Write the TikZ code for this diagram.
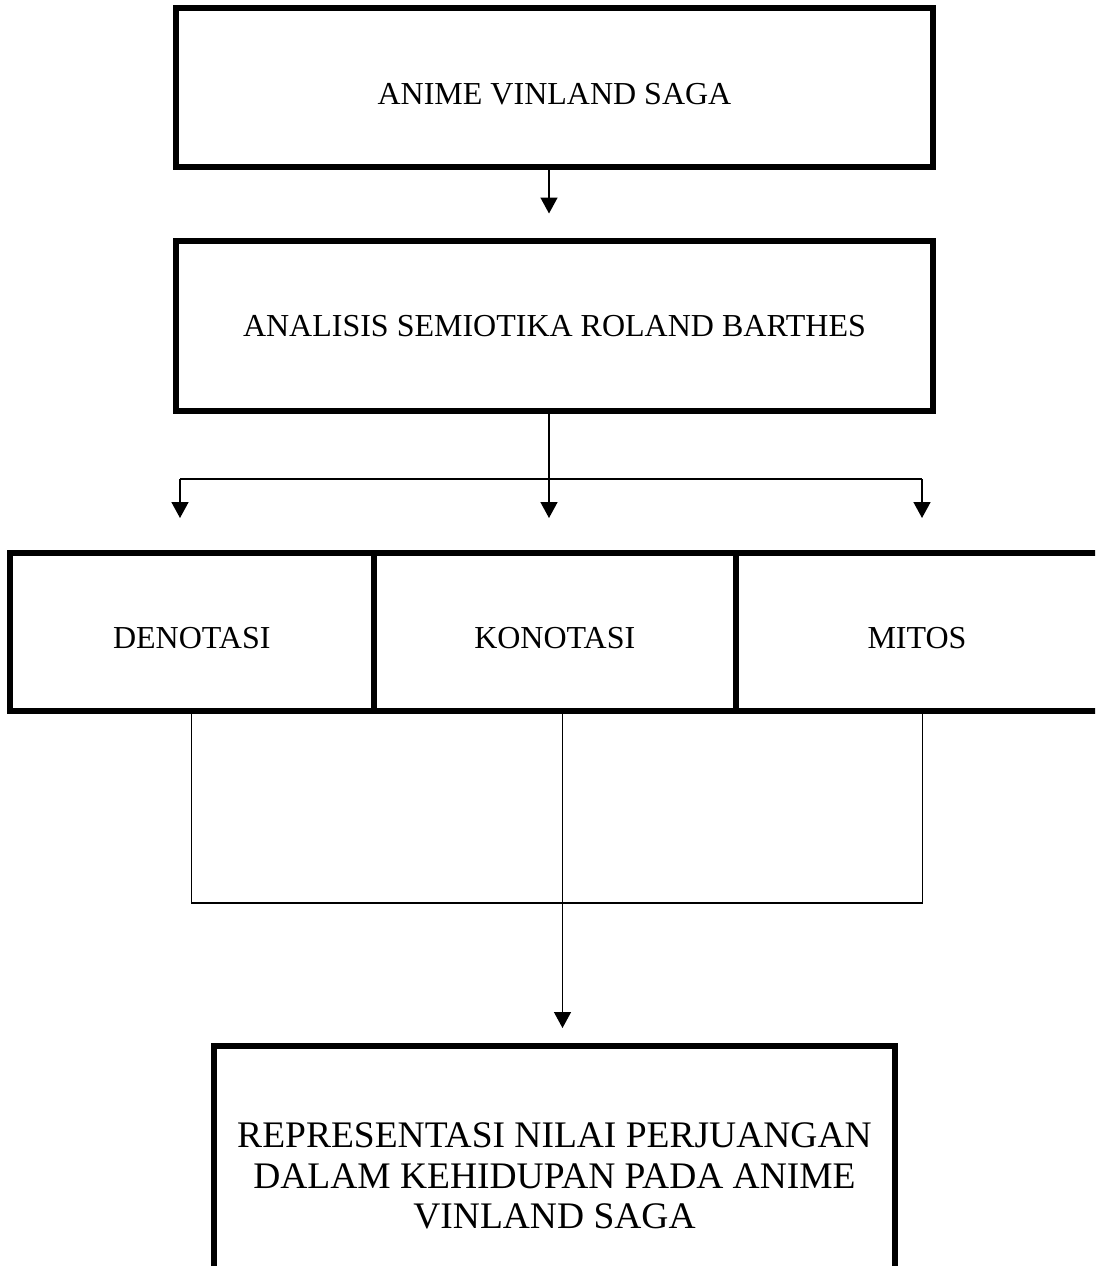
\documentclass[tikz,border=0pt]{standalone}
\usepackage{fontspec}
\setmainfont{Liberation Serif}
\usetikzlibrary{arrows.meta,calc}
\tikzset{
  box/.style={draw=black, line width=6pt, rectangle, inner sep=0pt, outer sep=0pt, align=center, fill=none},
  midfont/.style={font=\fontsize{32}{37}\selectfont},
  bigfont/.style={font=\fontsize{37.5}{40.7}\selectfont},
  tip/.style={-{Triangle[width=17pt,length=16pt]}},
  arr/.style={line width=1.6pt, tip},
  conn/.style={line width=1.6pt},
  brk/.style={line width=1.3pt}
}
\newcommand{\lowered}[2]{\raisebox{-#1pt}[0pt][0pt]{#2}}
\begin{document}
\begin{tikzpicture}[x=1pt,y=-1pt]
\useasboundingbox (0,0) rectangle (1095,1266);
\clip (0,0) rectangle (1095,1266);
% boxes
\node[box, midfont, minimum width=757pt, minimum height=159.5pt] (anime) at (554.5,87.25) {\lowered{17.6}{ANIME VINLAND SAGA}};
\node[box, midfont, minimum width=757pt, minimum height=170.5pt] (analisis) at (554.5,325.75) {ANALISIS SEMIOTIKA ROLAND BARTHES};
\node[box, midfont, minimum width=363.5pt, minimum height=158pt] (denot) at (191.75,632) {\lowered{16.4}{DENOTASI}};
\node[box, midfont, minimum width=362.5pt, minimum height=158pt] (konot) at (554.75,632) {\lowered{16.4}{KONOTASI}};
\node[box, midfont, minimum width=366pt, minimum height=158pt] (mitos) at (919,632) {\lowered{16.4}{\kern-4pt MITOS}};
\node[box, bigfont, minimum width=681pt, minimum height=260pt] (hasil) at (554.5,1176) {REPRESENTASI NILAI PERJUANGAN\\DALAM KEHIDUPAN PADA ANIME\\VINLAND SAGA};
% spine coordinates
\coordinate (sx) at (549,0);
\coordinate (lx) at (180,0);
\coordinate (rx) at (922,0);
\coordinate (bl) at (191.5,0);
\coordinate (bc) at (562.5,0);
\coordinate (br) at (922.5,0);
% arrow anime -> analisis
\draw[arr] (anime.south -| sx) -- ($(analisis.north -| sx)+(0,-27)$);
% branch analisis -> three
\coordinate (bj) at ($(analisis.south -| sx)+(0,68)$);
\draw[conn] (analisis.south -| sx) -- (bj);
\draw[conn] (bj -| lx) -- (bj -| rx);
\draw[arr] (bj -| lx) -- ($(denot.north -| lx)+(0,-35)$);
\draw[arr] (bj) -- ($(konot.north -| sx)+(0,-35)$);
\draw[arr] (bj -| rx) -- ($(mitos.north -| rx)+(0,-35)$);
% bracket below row
\coordinate (hb) at ($(denot.south)+(0,192)$);
\draw[brk] (denot.south -| bl) -- (hb -| bl) -- (hb -| br) -- (mitos.south -| br);
\draw[brk, tip] (konot.south -| bc) -- ($(hasil.north -| bc)+(0,-18)$);
\end{tikzpicture}
\end{document}
